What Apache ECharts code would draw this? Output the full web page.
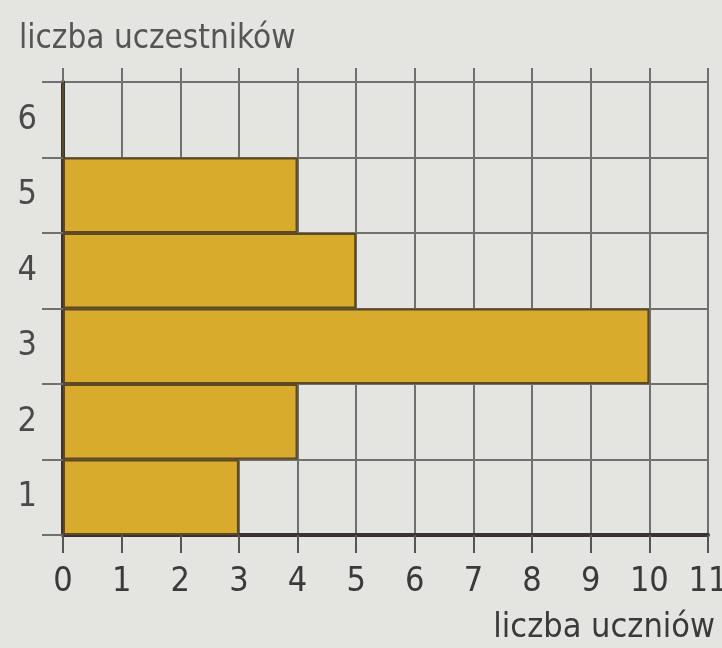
<!DOCTYPE html>
<html>
<head>
<meta charset="utf-8">
<script src="https://cdn.jsdelivr.net/npm/echarts@6/dist/echarts.min.js"></script>
<style>
  html, body { margin: 0; padding: 0; background: #e4e4e1; overflow: hidden; }
  #main { position: absolute; left: 0; top: 0; width: 722px; height: 648px; }
</style>
</head>
<body>
<div id="main"></div>
<script>
// liczba uczestników (oś pionowa) i liczba uczniów (długość słupka)
var categories = ['1', '2', '3', '4', '5', '6'];
var counts = [3, 4, 10, 5, 4, 0];
var xMin = 0, xMax = 11, xStep = 1;

var FONT = "'Liberation Sans Narrow', 'DejaVu Sans Condensed', sans-serif";
var gridColor = '#707070';
var axisColor = '#3a3234';

var myChart = echarts.init(document.getElementById('main'), null, { width: 722, height: 648 });
myChart.setOption({
    backgroundColor: '#e4e4e1',
    animation: false,
    textStyle: { fontFamily: FONT },
    title: [
        {
            text: 'liczba uczestników',
            left: 14, top: 18,
            textStyle: { fontFamily: FONT, fontSize: 33, fontWeight: 'normal', color: '#555' }
        },
        {
            text: 'liczba uczniów',
            right: 2, top: 606,
            textStyle: { fontFamily: FONT, fontSize: 34, fontWeight: 'normal', color: '#3a3a3a' }
        }
    ],
    grid: { left: 63, right: 14, top: 82, bottom: 113, containLabel: false, outerBoundsMode: 'none' },
    xAxis: [
        {
            type: 'value',
            position: 'bottom',
            min: xMin, max: xMax, interval: xStep,
            axisLine: { show: true, lineStyle: { color: axisColor, width: 4 } },
            axisTick: { show: true, length: 18, lineStyle: { color: '#555', width: 2 } },
            axisLabel: { fontFamily: FONT, fontSize: 34, color: '#3a3a3a', margin: 30 },
            splitLine: { show: true, lineStyle: { color: gridColor, width: 2 } }
        },
        {
            // only used to let the vertical grid lines stick out above the top line
            type: 'value',
            position: 'top',
            min: xMin, max: xMax, interval: xStep,
            axisLine: { show: false },
            axisTick: { show: true, length: 14, lineStyle: { color: gridColor, width: 2 } },
            axisLabel: { show: false },
            splitLine: { show: false }
        }
    ],
    yAxis: {
        type: 'category',
        data: categories,
        boundaryGap: true,
        axisLine: { show: true, lineStyle: { color: axisColor, width: 4 } },
        axisTick: { show: true, length: 21, lineStyle: { color: gridColor, width: 2 } },
        axisLabel: { fontFamily: FONT, fontSize: 34, color: '#4a4a4a', margin: 26 },
        splitLine: { show: true, lineStyle: { color: gridColor, width: 2 } }
    },
    series: [{
        type: 'bar',
        xAxisIndex: 0,
        data: counts,
        barCategoryGap: 0,
        itemStyle: {
            color: '#d9ab2c',
            borderColor: '#5e4a22',
            borderWidth: 2
        },
        z: 3
    }]
});
</script>
</body>
</html>
